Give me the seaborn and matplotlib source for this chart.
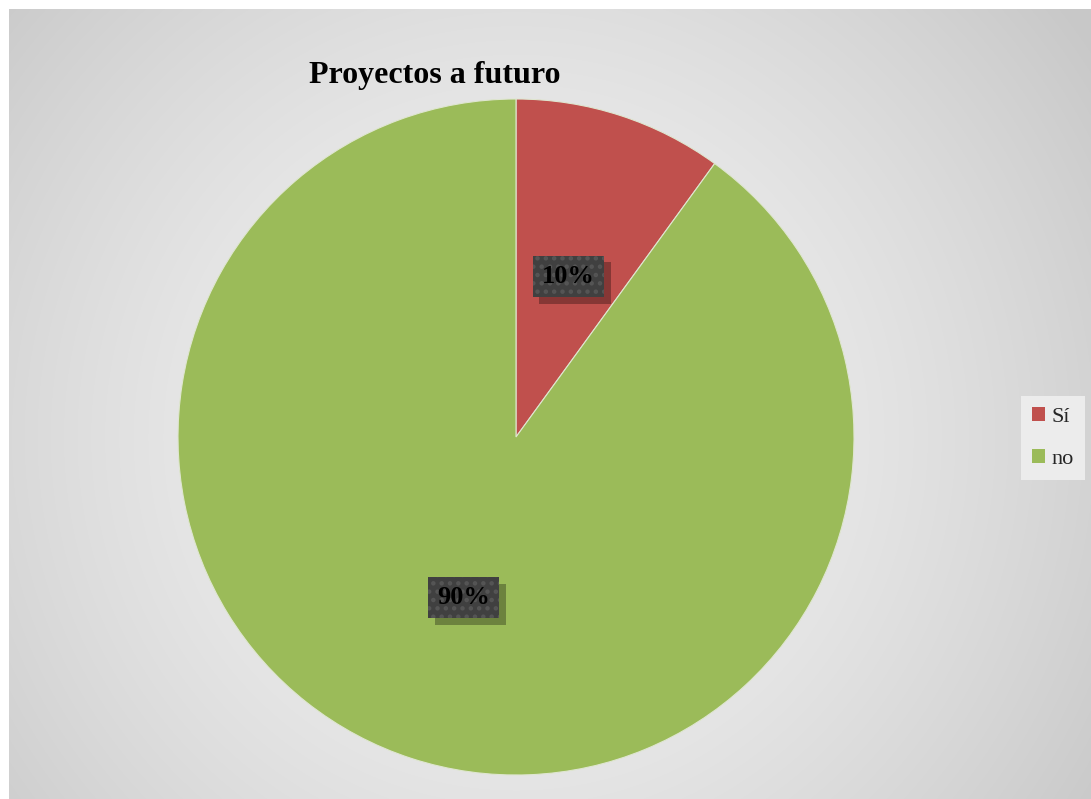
import numpy as np
import matplotlib
matplotlib.use("Agg")
import matplotlib.pyplot as plt
import matplotlib.patheffects as pe
from matplotlib.patches import Patch
import seaborn as sns

categories = ["Sí", "no"]
values = [10, 90]
colors = ["#C0504D", "#9BBB59"]
title = "Proyectos a futuro"

sns.set_theme(style="white")
plt.rcParams['font.family'] = ['Liberation Serif', 'DejaVu Serif']
plt.rcParams['hatch.linewidth'] = 2.0


class BoxShadow(pe.AbstractPathEffect):
    def __init__(self, offset=(5, -5), color=(0, 0, 0), alpha=0.3):
        super().__init__(offset)
        self._color = color
        self._alpha = alpha

    def draw_path(self, renderer, gc, tpath, affine, rgbFace):
        gc0 = renderer.new_gc()
        gc0.copy_properties(gc)
        gc0.set_hatch(None)
        gc0.set_foreground("none")
        gc0.set_alpha(self._alpha)
        gc0.set_linewidth(0)
        renderer.draw_path(gc0, tpath, affine + self._offset_transform(renderer), self._color)
        gc0.restore()


W, H = 1091, 799
fig = plt.figure(figsize=(W / 100, H / 100), dpi=100, facecolor="white")

# background radial gradient panel
bg = fig.add_axes([9 / W, 0, 1 - 9 / W, 1 - 9 / H])
bg.set_axis_off()
yy, xx = np.mgrid[9:H, 9:W]
cx, cy = 516, 437
r = np.sqrt((xx - cx) ** 2 + (yy - cy) ** 2)
t = np.clip(r / 700.0, 0, 1)
g = 0.955 - 0.17 * t ** 1.5
bg.imshow(np.dstack([g, g, g]), aspect="auto", interpolation="bilinear",
          extent=[0, 1, 0, 1], origin="upper")
bg.set_xlim(0, 1)
bg.set_ylim(0, 1)

# pie axes
R = 338
ax = fig.add_axes([(cx - R) / W, (H - cy - R) / H, 2 * R / W, 2 * R / H])
ax.set_axis_off()
wedges, texts, autotexts = ax.pie(
    values, colors=colors, startangle=90, counterclock=False,
    autopct="%1.0f%%", pctdistance=0.5, radius=1.0,
    wedgeprops=dict(linewidth=0.8, edgecolor="#dfe6d0"),
)
ax.set_xlim(-1, 1)
ax.set_ylim(-1, 1)
for at in autotexts:
    at.set_fontsize(19)
    at.set_fontweight("bold")
    at.set_color("black")
    at.set_zorder(5)
    at.set_bbox(dict(boxstyle="square,pad=0.35", facecolor="#404040",
                     edgecolor="#555555", linewidth=0, hatch=".."))
    at.get_bbox_patch().set_path_effects([BoxShadow(offset=(5, -5), alpha=0.3), pe.Normal()])

fig.text(435 / W, 1 - 75 / H, title, ha="center", va="center",
         fontsize=23, fontweight="bold", color="black")

handles = [Patch(facecolor=c, edgecolor="none") for c in colors]
leg = fig.legend(handles, categories, loc="center", bbox_to_anchor=(1053 / W, 1 - 438 / H),
                 frameon=True, fontsize=16, handlelength=0.6, handleheight=0.6,
                 handletextpad=0.3, labelspacing=1.0, borderpad=0.5, fancybox=False)
leg.get_frame().set_facecolor("#ececec")
leg.get_frame().set_edgecolor("none")
leg.get_frame().set_alpha(1)

fig.savefig("out.png", dpi=100, facecolor="white")
